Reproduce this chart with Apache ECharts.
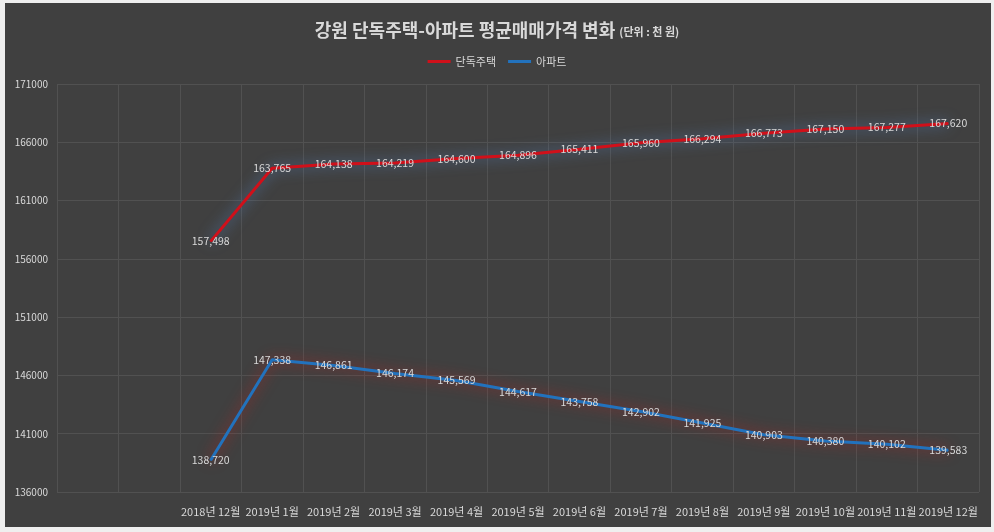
<!DOCTYPE html>
<html>
<head>
<meta charset="utf-8">
<script src="https://cdn.jsdelivr.net/npm/echarts@6/dist/echarts.min.js"></script>
<style>
  html, body { margin: 0; padding: 0; background: #efefef; }
  #frame { position: absolute; left: 5px; top: 3px; width: 986px; height: 524px; background: #404040; }
  #chart { position: absolute; left: 0; top: 0; width: 994px; height: 532px; }
</style>
</head>
<body>
<div id="frame"></div>
<div id="chart"></div>
<script>
// categories: first two slots are empty in the original sheet
var months = ['', '', '2018년 12월', '2019년 1월', '2019년 2월', '2019년 3월', '2019년 4월',
  '2019년 5월', '2019년 6월', '2019년 7월', '2019년 8월', '2019년 9월', '2019년 10월',
  '2019년 11월', '2019년 12월']

var detached = [null, null, 157498, 163765, 164138, 164219, 164600, 164896, 165411,
  165960, 166294, 166773, 167150, 167277, 167620]
var apartment = [null, null, 138720, 147338, 146861, 146174, 145569, 144617, 143758,
  142902, 141925, 140903, 140380, 140102, 139583]

var font = '"Noto Sans CJK KR", sans-serif'
var textColor = '#d9d9d9'

var chart = echarts.init(document.getElementById('chart'))

function labelOpt() {
  return {
    show: true,
    position: 'inside',
    color: textColor,
    fontSize: 10.5,
    fontFamily: font,
    formatter: function (p) { return p.value == null ? '' : p.value.toLocaleString('en-US') }
  }
}

chart.setOption({
  backgroundColor: 'transparent',
  textStyle: { fontFamily: font },
  title: {
    text: '{main|강원 단독주택-아파트 평균매매가격 변화} {sub|(단위 : 천 원)}',
    left: 'center',
    top: 16,
    textStyle: {
      rich: {
        main: { fontSize: 18, fontWeight: 'bold', color: textColor, fontFamily: font },
        sub: { fontSize: 11, color: textColor, fontFamily: font, padding: [4, 0, 0, 0] }
      }
    }
  },
  legend: {
    top: 51,
    left: 'center',
    itemWidth: 23,
    itemHeight: 3,
    itemGap: 12,
    icon: 'rect',
    textStyle: { color: textColor, fontSize: 11, fontFamily: font },
    data: ['단독주택', '아파트']
  },
  grid: { left: 57, right: 15, top: 84, bottom: 40 },
  xAxis: {
    type: 'category',
    data: months,
    boundaryGap: true,
    axisLine: { show: false },
    axisTick: { show: false },
    axisLabel: { color: textColor, fontSize: 11, margin: 14, interval: 0, fontFamily: font },
    splitLine: { show: true, lineStyle: { color: '#515151', width: 1 } }
  },
  yAxis: {
    type: 'value',
    min: 136000,
    max: 171000,
    interval: 5000,
    axisLine: { show: false },
    axisTick: { show: false },
    axisLabel: {
      color: textColor, fontSize: 10, margin: 9, fontFamily: font,
      formatter: function (v) { return String(v) }
    },
    splitLine: { lineStyle: { color: '#515151', width: 1 } }
  },
  series: [
    {
      name: '단독주택',
      type: 'line',
      data: detached,
      symbol: 'circle',
      symbolSize: 1,
      itemStyle: { color: '#d0101a' },
      lineStyle: {
        color: '#d0101a',
        width: 3,
        shadowColor: 'rgba(90,140,210,0.8)',
        shadowBlur: 14
      },
      label: labelOpt()
    },
    {
      name: '아파트',
      type: 'line',
      data: apartment,
      symbol: 'circle',
      symbolSize: 1,
      itemStyle: { color: '#2272bd' },
      lineStyle: {
        color: '#2272bd',
        width: 3,
        shadowColor: 'rgba(210,30,30,0.75)',
        shadowBlur: 14
      },
      label: labelOpt()
    }
  ]
})
</script>
</body>
</html>
